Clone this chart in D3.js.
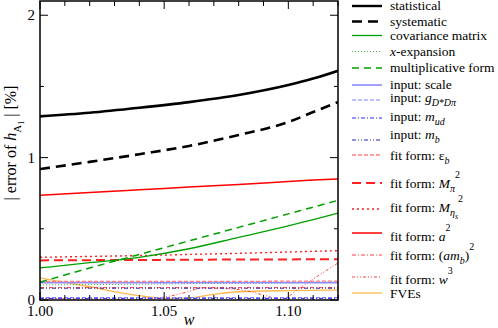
<!DOCTYPE html>
<html>
<head>
<meta charset="utf-8">
<script src="https://cdn.jsdelivr.net/npm/d3@7"></script>
<style>
  body { margin: 0; background: #fff; }
  text { font-family: "Liberation Serif", "DejaVu Serif", serif; }
</style>
</head>
<body>
<div id="chart"></div>
<script>
// values, w on the x axis, error in % on the y axis
var wGrid = [1.00, 1.02, 1.04, 1.06, 1.08, 1.10, 1.11, 1.12];
var statistical = [1.29, 1.315, 1.35, 1.39, 1.44, 1.51, 1.555, 1.61];
var systematic = [0.92, 0.97, 1.024, 1.082, 1.159, 1.25, 1.32, 1.39];
var covariance = [0.225, 0.262, 0.30, 0.36, 0.44, 0.52, 0.565, 0.61];
var xExpansion = [0.105, 0.108, 0.111, 0.115, 0.118, 0.121, 0.123, 0.125];
var multiplicative = [0.125, 0.225, 0.32, 0.415, 0.51, 0.605, 0.652, 0.70];
var inputScale = [0.122, 0.122, 0.122, 0.122, 0.122, 0.122, 0.122, 0.122];
var inputG = [0.016, 0.016, 0.016, 0.016, 0.016, 0.016, 0.016, 0.016];
var inputMud = [0.011, 0.011, 0.011, 0.011, 0.011, 0.011, 0.011, 0.011];
var inputMb = [0.083, 0.083, 0.083, 0.083, 0.083, 0.083, 0.083, 0.083];
var fitEps = [0.13, 0.13, 0.13, 0.131, 0.131, 0.132, 0.132, 0.132];
var fitMpi = [0.278, 0.28, 0.281, 0.283, 0.284, 0.285, 0.286, 0.286];
var fitMeta = [0.30, 0.306, 0.312, 0.32, 0.328, 0.337, 0.342, 0.346];
var fitA2 = [0.735, 0.755, 0.774, 0.793, 0.812, 0.832, 0.842, 0.851];
var fitAmb = [0.087, 0.087, 0.087, 0.087, 0.087, 0.087, 0.087, 0.087];
var w3Grid = [1.00, 1.02, 1.04, 1.05, 1.06, 1.065, 1.075, 1.082, 1.09, 1.097, 1.105, 1.112, 1.12];
var fitW3 = [0.012, 0.006, 0.004, 0.02, 0.06, 0.085, 0.08, 0.068, 0.035, 0.004, 0.09, 0.17, 0.26];
var fveGrid = [1.00, 1.02, 1.04, 1.05, 1.06, 1.07, 1.08, 1.10, 1.12];
var fve = [0.155, 0.093, 0.03, 0.012, 0.015, 0.04, 0.058, 0.066, 0.07];

var xTicks = [1.00, 1.05, 1.10];
var yTicks = [0, 1, 2];

var W = 498, H = 328;
var padL = 40, padR = 338, padT = 1, padB = 300;

var svg = d3.select('#chart').append('svg')
  .attr('width', W)
  .attr('height', H);

var x = d3.scaleLinear().domain([1.00, 1.12]).range([padL, padR]);
var y = d3.scaleLinear().domain([0, 2.1]).range([padB, padT]);

var series = [
  { name: 'statistical', w: wGrid, v: statistical, color: '#000', width: 2.6, dash: null },
  { name: 'systematic', w: wGrid, v: systematic, color: '#000', width: 2.6, dash: '10,6' },
  { name: 'covariance', w: wGrid, v: covariance, color: '#00a000', width: 1.3, dash: null },
  { name: 'xexp', w: wGrid, v: xExpansion, color: '#3cb43c', width: 1, dash: '1,2' },
  { name: 'mult', w: wGrid, v: multiplicative, color: '#00a000', width: 1.5, dash: '7,5' },
  { name: 'scale', w: wGrid, v: inputScale, color: '#8c8cff', width: 1.6, dash: null },
  { name: 'g', w: wGrid, v: inputG, color: '#8080ff', width: 1.2, dash: '4,2' },
  { name: 'mud', w: wGrid, v: inputMud, color: '#2a2aff', width: 1, dash: '4,2,1,2' },
  { name: 'mb', w: wGrid, v: inputMb, color: '#2020b0', width: 1, dash: '4,2,1,2,1,2' },
  { name: 'eps', w: wGrid, v: fitEps, color: '#ff8080', width: 1.3, dash: '4,2' },
  { name: 'mpi', w: wGrid, v: fitMpi, color: '#ff2020', width: 2, dash: '9,5' },
  { name: 'meta', w: wGrid, v: fitMeta, color: '#ff2020', width: 1.4, dash: '2,3' },
  { name: 'a2', w: wGrid, v: fitA2, color: '#ff0000', width: 1.5, dash: null },
  { name: 'amb', w: wGrid, v: fitAmb, color: '#ff4040', width: 1, dash: '4,2,1,2' },
  { name: 'w3', w: w3Grid, v: fitW3, color: '#ff4040', width: 1, dash: '3,2,1,2,1,2' },
  { name: 'fve', w: fveGrid, v: fve, color: '#ffb84d', width: 1.3, dash: null }
];

// legend labels, pieces: [text, style] with style i = italic, sub, sup, sub2
var labels = [
  [['statistical']],
  [['systematic']],
  [['covariance matrix']],
  [['x', 'i'], ['-expansion']],
  [['multiplicative form']],
  [['input: scale']],
  [['input: '], ['g', 'i'], ['D*D\u03c0', 'sub']],
  [['input: '], ['m', 'i'], ['ud', 'sub']],
  [['input: '], ['m', 'i'], ['b', 'sub']],
  [['fit form: \u03b5'], ['b', 'sub']],
  [['fit form: '], ['M', 'i'], ['\u03c0', 'sub'], ['2', 'sup']],
  [['fit form: '], ['M', 'i'], ['\u03b7', 'sub'], ['s', 'sub2'], ['2', 'sup']],
  [['fit form: '], ['a', 'i'], ['2', 'sup']],
  [['fit form: ('], ['am', 'i'], ['b', 'sub'], [')'], ['2', 'sup']],
  [['fit form: '], ['w', 'i'], ['3', 'sup']],
  [['FVEs']]
];
var legendLineY = [6, 21.5, 35.5, 51.5, 68, 85, 100, 118, 140, 155, 183, 209, 233, 255, 277, 293];
var legendTextY = [10, 25.5, 40, 55.5, 72, 89, 102, 121, 139, 160, 188, 212, 241, 260, 284, 298];

svg.append('clipPath').attr('id', 'plotclip')
  .append('rect').attr('x', padL).attr('y', padT)
  .attr('width', padR - padL).attr('height', padB - padT);

var line = d3.line()
  .x(function (d) { return x(d[0]); })
  .y(function (d) { return y(d[1]); })
  .curve(d3.curveMonotoneX);

var plot = svg.append('g').attr('clip-path', 'url(#plotclip)');

// draw the small ones first so the big ones sit on top
var order = [15, 14, 13, 8, 7, 6, 3, 5, 9, 11, 10, 12, 2, 4, 1, 0];
order.forEach(function (k) {
  var s = series[k];
  plot.append('path')
    .datum(s.w.map(function (w, j) { return [w, s.v[j]]; }))
    .attr('fill', 'none')
    .attr('stroke', s.color)
    .attr('stroke-width', s.width)
    .attr('stroke-dasharray', s.dash)
    .attr('d', line);
});

// ticks, all drawn inward on the four sides
var minorX = d3.range(0, 13).map(function (i) { return 1 + i * 0.01; });
var minorY = [0.5, 1.5];
var tk = svg.append('g').attr('stroke', '#000').attr('stroke-width', 1);
minorX.forEach(function (w) {
  var major = xTicks.some(function (t) { return Math.abs(t - w) < 1e-9; });
  var len = major ? 8 : 5;
  tk.append('line').attr('x1', x(w)).attr('x2', x(w)).attr('y1', padB).attr('y2', padB - len);
  tk.append('line').attr('x1', x(w)).attr('x2', x(w)).attr('y1', padT).attr('y2', padT + len);
});
yTicks.concat(minorY).forEach(function (v) {
  var len = yTicks.indexOf(v) >= 0 ? 8 : 4;
  tk.append('line').attr('x1', padL).attr('x2', padL + len).attr('y1', y(v)).attr('y2', y(v));
  tk.append('line').attr('x1', padR).attr('x2', padR - len).attr('y1', y(v)).attr('y2', y(v));
});

svg.append('rect')
  .attr('x', padL).attr('y', padT)
  .attr('width', padR - padL).attr('height', padB - padT)
  .attr('fill', 'none').attr('stroke', '#000').attr('stroke-width', 1.5);

svg.selectAll('.xlab').data(xTicks).enter().append('text')
  .attr('x', function (d) { return x(d); })
  .attr('y', 316)
  .attr('text-anchor', 'middle')
  .attr('font-size', '15px')
  .text(function (d) { return d.toFixed(2); });

svg.selectAll('.ylab').data(yTicks).enter().append('text')
  .attr('x', 35)
  .attr('y', function (d) { return y(d) + 5; })
  .attr('text-anchor', 'end')
  .attr('font-size', '15px')
  .text(function (d) { return d; });

svg.append('text')
  .attr('x', (padL + padR) / 2)
  .attr('y', 325)
  .attr('text-anchor', 'middle')
  .attr('font-size', '16px')
  .attr('font-style', 'italic')
  .text('w');

var yl = svg.append('text')
  .attr('transform', 'translate(16,143) rotate(-90)')
  .attr('text-anchor', 'middle')
  .attr('font-size', '16px');
yl.append('tspan').text('| error of ');
yl.append('tspan').attr('font-style', 'italic').text('h');
yl.append('tspan').attr('font-size', '11px').attr('dy', 5).text('A');
yl.append('tspan').attr('font-size', '8px').attr('dy', 3).text('1');
yl.append('tspan').attr('dy', -8).text(' | [%]');

// legend
var lg = svg.append('g');
series.forEach(function (s, k) {
  lg.append('line')
    .attr('x1', 352).attr('x2', 382)
    .attr('y1', legendLineY[k]).attr('y2', legendLineY[k])
    .attr('stroke', s.color)
    .attr('stroke-width', Math.min(s.width, 2.4))
    .attr('stroke-dasharray', s.dash);
  var t = lg.append('text')
    .attr('x', 390).attr('y', legendTextY[k])
    .attr('font-size', '13.5px');
  var shift = 0;
  labels[k].forEach(function (p) {
    var ts = t.append('tspan').text(p[0]);
    var target = 0;
    if (p[1] === 'i') ts.attr('font-style', 'italic');
    if (p[1] === 'sub') { ts.attr('font-size', '10px').attr('font-style', 'italic'); target = 4; }
    if (p[1] === 'sub2') { ts.attr('font-size', '8px').attr('font-style', 'italic'); target = 7; }
    if (p[1] === 'sup') { ts.attr('font-size', '10px'); target = -10; }
    if (target !== shift) ts.attr('dy', target - shift);
    shift = target;
  });
});
</script>
</body>
</html>
